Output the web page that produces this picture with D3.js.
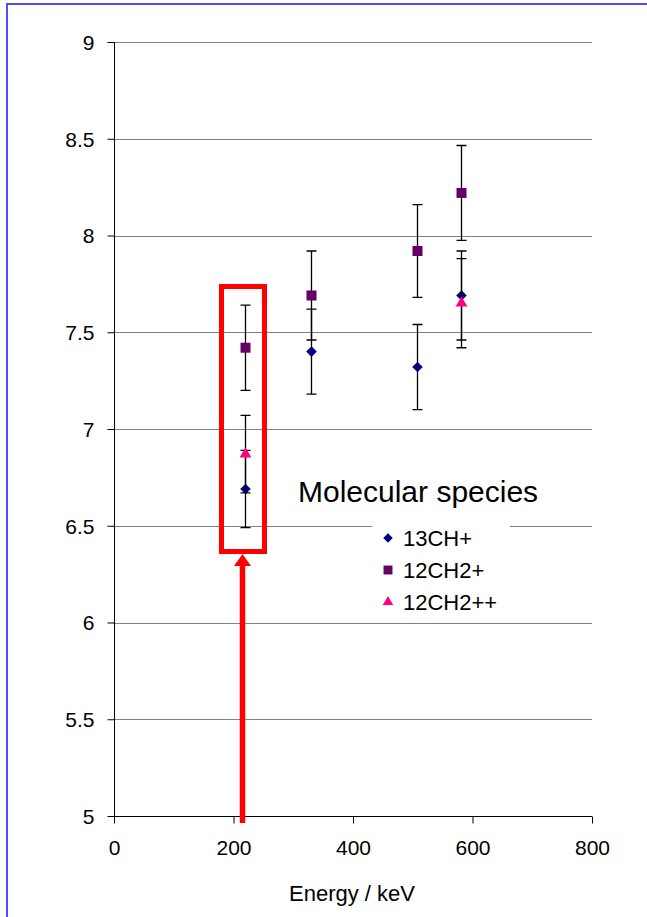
<!DOCTYPE html>
<html>
<head>
<meta charset="utf-8">
<script src="https://cdn.jsdelivr.net/npm/d3@7"></script>
<style>
  body { margin: 0; background: #fff; }
  text { font-family: Arial, "Liberation Sans", sans-serif; fill: #000; }
</style>
</head>
<body>
<div id="chart"></div>
<script>
// Energies (keV), values and error sizes per species
var energy_13ch = [220, 330, 507, 580];
var value_13ch = [6.69, 7.40, 7.32, 7.69];
var error_13ch = [0.20, 0.22, 0.22, 0.23];

var energy_12ch2 = [220, 330, 507, 580];
var value_12ch2 = [7.42, 7.69, 7.92, 8.22];
var error_12ch2 = [0.22, 0.23, 0.24, 0.245];

var energy_12ch2pp = [220, 580];
var value_12ch2pp = [6.87, 7.65];
var error_12ch2pp = [0.20, 0.23];

var x_ticks = [0, 200, 400, 600, 800];
var y_ticks = [5, 5.5, 6, 6.5, 7, 7.5, 8, 8.5, 9];
var series_names = ['13CH+', '12CH2+', '12CH2++'];

var width = 647;
var height = 917;

var svg = d3.select('#chart')
			.append('svg')
			.attr('width', width)
			.attr('height', height);

// outer frame (blue, only top and left visible)
svg.append('path')
   .attr('d', 'M7,917 L7,4 L647,4')
   .attr('fill', 'none')
   .attr('stroke', '#4d4dff')
   .attr('stroke-width', 2);

// Scales
var x_scale = d3.scaleLinear().domain([0, 800]).range([114, 592]);
var y_scale = d3.scaleLinear().domain([5, 9]).range([816, 42]);

// Gridlines
svg.append('g')
   .selectAll('line')
   .data(y_ticks)
   .enter()
   .append('line')
   .attr('x1', x_scale(0))
   .attr('x2', x_scale(800))
   .attr('y1', function(d){ return Math.round(y_scale(d)) + 0.5; })
   .attr('y2', function(d){ return Math.round(y_scale(d)) + 0.5; })
   .attr('stroke', '#808080')
   .attr('stroke-width', 1);

// Axes
var y_axis = d3.axisLeft(y_scale)
			   .tickValues(y_ticks)
			   .tickSize(7)
			   .tickPadding(13)
			   .tickFormat(d3.format('~g'));
var y_g = svg.append('g')
   .attr('transform', 'translate(' + (x_scale(0) + 0.5) + ',0)')
   .call(y_axis);

var x_axis = d3.axisBottom(x_scale)
			   .tickValues(x_ticks)
			   .tickSize(7)
			   .tickPadding(17)
			   .tickFormat(d3.format('d'));
var x_g = svg.append('g')
   .attr('transform', 'translate(0,' + (y_scale(5) + 0.5) + ')')
   .call(x_axis);

[y_g, x_g].forEach(function(g){
	g.select('.domain').remove();
	g.selectAll('.tick line').attr('stroke', '#000');
	g.selectAll('.tick text')
	 .style('font-size', '21px')
	 .style('font-family', 'Arial, "Liberation Sans", sans-serif');
});
y_g.selectAll('.tick text').attr('dy', '0.35em');

// axis lines
svg.append('line')
   .attr('x1', x_scale(0) + 0.5).attr('x2', x_scale(0) + 0.5)
   .attr('y1', y_scale(9)).attr('y2', y_scale(5) + 1)
   .attr('stroke', '#000');
svg.append('line')
   .attr('x1', x_scale(0)).attr('x2', x_scale(800))
   .attr('y1', y_scale(5) + 0.5).attr('y2', y_scale(5) + 0.5)
   .attr('stroke', '#000');

svg.append('text')
   .attr('x', 352)
   .attr('y', 893)
   .attr('text-anchor', 'middle')
   .attr('dominant-baseline', 'central')
   .style('font-size', '22px')
   .text('Energy / keV');

// Series (diamond = square turned 45 degrees)
var series = [
	{ name: series_names[0], x: energy_13ch, y: value_13ch, e: error_13ch, color: '#000080', symbol: d3.symbolSquare, size: 56, rotate: 45 },
	{ name: series_names[1], x: energy_12ch2, y: value_12ch2, e: error_12ch2, color: '#660066', symbol: d3.symbolSquare, size: 100, rotate: 0 },
	{ name: series_names[2], x: energy_12ch2pp, y: value_12ch2pp, e: error_12ch2pp, color: '#ff0080', symbol: d3.symbolTriangle, size: 60, rotate: 0 }
];

series.forEach(function(s){
	var pts = s.x.map(function(d, i){ return { x: d, y: s.y[i], e: s.e[i] }; });
	var g = svg.append('g');

	// error bars
	g.selectAll('.bar')
	 .data(pts)
	 .enter()
	 .append('path')
	 .attr('d', function(d){
		var cx = Math.round(x_scale(d.x)) + 0.5;
		var y1 = y_scale(d.y + d.e), y2 = y_scale(d.y - d.e);
		return 'M' + cx + ',' + y1 + 'L' + cx + ',' + y2 +
			   'M' + (cx - 5) + ',' + y1 + 'L' + (cx + 5) + ',' + y1 +
			   'M' + (cx - 5) + ',' + y2 + 'L' + (cx + 5) + ',' + y2;
	 })
	 .attr('stroke', '#000')
	 .attr('stroke-width', 1.3)
	 .attr('fill', 'none');

	// markers
	g.selectAll('.pt')
	 .data(pts)
	 .enter()
	 .append('path')
	 .attr('d', d3.symbol().type(s.symbol).size(s.size))
	 .attr('transform', function(d){
		return 'translate(' + (Math.round(x_scale(d.x)) + 0.5) + ',' + y_scale(d.y) + ') rotate(' + s.rotate + ')';
	 })
	 .attr('fill', s.color);
});

// Legend
svg.append('rect')
   .attr('x', 372).attr('y', 519)
   .attr('width', 138).attr('height', 99)
   .attr('fill', '#fff');

svg.append('text')
   .attr('x', 298)
   .attr('y', 502)
   .style('font-size', '30px')
   .text('Molecular species');

var legend = svg.selectAll('.legend')
	.data(series)
	.enter()
	.append('g')
	.attr('transform', function(d, i){ return 'translate(388,' + (538 + i * 32) + ')'; });

legend.append('path')
	  .attr('d', function(d){ return d3.symbol().type(d.symbol).size(d.size * 0.8)(); })
	  .attr('transform', function(d){ return 'rotate(' + d.rotate + ')'; })
	  .attr('fill', function(d){ return d.color; });

legend.append('text')
	  .attr('x', 15)
	  .attr('dominant-baseline', 'central')
	  .style('font-size', '22px')
	  .text(function(d){ return d.name; });

// Red annotation: box around the 220 keV points and arrow from below
svg.append('rect')
   .attr('x', 221.5).attr('y', 286.5)
   .attr('width', 43).attr('height', 265)
   .attr('fill', 'none')
   .attr('stroke', '#ff0000')
   .attr('stroke-width', 5);

svg.append('line')
   .attr('x1', 242.5).attr('x2', 242.5)
   .attr('y1', 823).attr('y2', 562)
   .attr('stroke', '#ff0000')
   .attr('stroke-width', 5.5);

svg.append('path')
   .attr('d', 'M242.5,554 L251,566 L234,566 Z')
   .attr('fill', '#ff0000');
</script>
</body>
</html>
